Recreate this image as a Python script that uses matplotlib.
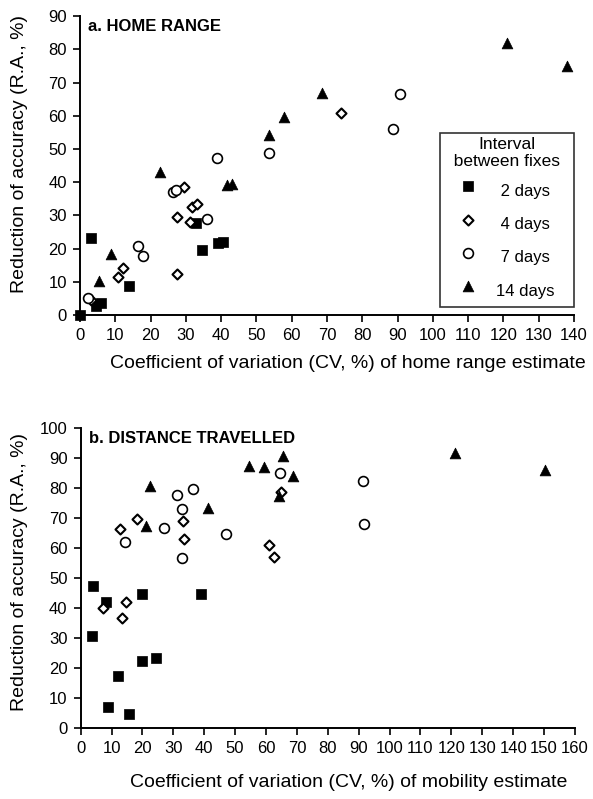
import matplotlib
matplotlib.use("Agg")
import matplotlib.pyplot as plt

plt.rcParams['font.family'] = ['Liberation Sans', 'DejaVu Sans']
plt.rcParams['font.size'] = 12

# ---- Panel a: home range ----
a_sq_x = [0, 3.0, 4.5, 5.9, 13.9, 32.8, 34.5, 39.2, 40.6]
a_sq_y = [0, 23.3, 2.7, 3.5, 8.7, 27.6, 19.6, 21.6, 22.0]
a_di_x = [3.0, 10.9, 12.1, 27.6, 27.6, 29.6, 31.2, 31.8, 33.1, 74.0]
a_di_y = [4.6, 11.5, 14.0, 29.6, 12.3, 38.5, 28.1, 32.4, 33.3, 60.8]
a_ci_x = [2.2, 16.5, 17.8, 26.4, 27.1, 35.9, 38.7, 53.6, 88.8, 90.7]
a_ci_y = [5.1, 20.8, 17.8, 37.0, 37.7, 28.8, 47.4, 48.9, 55.9, 66.5]
a_tr_x = [5.5, 8.7, 22.7, 41.8, 43.0, 53.6, 57.8, 68.7, 121.1, 138.1]
a_tr_y = [10.2, 18.4, 43.2, 39.2, 39.6, 54.2, 59.7, 67.0, 82.0, 75.0]

# ---- Panel b: distance travelled ----
b_sq_x = [4.1, 8.1, 19.9, 38.9, 3.6, 12.0, 19.9, 24.4, 8.9, 15.5]
b_sq_y = [47.3, 41.8, 44.6, 44.6, 30.7, 17.3, 22.2, 23.1, 7.0, 4.6]
b_di_x = [12.7, 18.3, 33.0, 33.4, 61.0, 62.6, 65.0, 14.6, 7.1, 13.5]
b_di_y = [66.1, 69.5, 68.9, 62.9, 60.9, 57.0, 78.5, 42.0, 40.0, 36.7]
b_ci_x = [14.3, 27.1, 31.3, 32.9, 36.4, 32.9, 46.9, 64.5, 91.3, 91.8]
b_ci_y = [62.0, 66.5, 77.6, 72.9, 79.6, 56.5, 64.6, 84.8, 82.3, 67.8]
b_tr_x = [22.4, 21.1, 41.1, 54.6, 59.4, 65.6, 68.8, 64.2, 121.1, 150.3]
b_tr_y = [80.6, 67.2, 73.1, 87.2, 86.8, 90.6, 83.9, 77.2, 91.7, 85.9]

legend_labels = [" 2 days", " 4 days", " 7 days", "14 days"]
legend_title = "Interval\n  between fixes  "

fig = plt.figure(figsize=(5.93, 7.99), dpi=100)
axA = fig.add_axes([0.1349, 0.6058, 0.833, 0.3739])
axB = fig.add_axes([0.136, 0.0892, 0.8336, 0.3755])

styles = [
    dict(marker='s', s=48, facecolors='black', edgecolors='black', linewidths=0.5),
    dict(marker='D', s=26, facecolors='white', edgecolors='black', linewidths=1.5),
    dict(marker='o', s=50, facecolors='white', edgecolors='black', linewidths=1.2),
    dict(marker='^', s=60, facecolors='black', edgecolors='black', linewidths=0.5),
]

def draw(ax, series, xmax, ymax, xlabel, title, xl_y, yl_y):
    handles = []
    for (xs, ys), st, lab in zip(series, styles, legend_labels):
        h = ax.scatter(xs, ys, clip_on=False, zorder=3, label=lab, **st)
        handles.append(h)
    ax.set_xlim(0, xmax)
    ax.set_ylim(0, ymax)
    ax.set_xticks(range(0, xmax + 1, 10))
    ax.set_yticks(range(0, ymax + 1, 10))
    for s in ['top', 'right']:
        ax.spines[s].set_visible(False)
    for s in ['left', 'bottom']:
        ax.spines[s].set_linewidth(1.4)
    ax.tick_params(direction='out', length=5, width=1.2, labelsize=12, pad=4.5)
    ax.set_xlabel(xlabel, fontsize=14)
    ax.xaxis.set_label_coords(0.542, xl_y)
    ax.set_ylabel("Reduction of accuracy (R.A., %)", fontsize=14)
    ax.yaxis.set_label_coords(-0.106, yl_y)
    ax.text(0.016, 0.99, title, transform=ax.transAxes, fontsize=12,
            fontweight='bold', va='top', ha='left')
    return handles

hA = draw(axA, [(a_sq_x, a_sq_y), (a_di_x, a_di_y), (a_ci_x, a_ci_y), (a_tr_x, a_tr_y)],
          140, 90, "Coefficient of variation (CV, %) of home range estimate", "a. HOME RANGE",
          -0.135, 0.54)
draw(axB, [(b_sq_x, b_sq_y), (b_di_x, b_di_y), (b_ci_x, b_ci_y), (b_tr_x, b_tr_y)],
     160, 100, "Coefficient of variation (CV, %) of mobility estimate", "b. DISTANCE TRAVELLED",
     -0.153, 0.52)

leg = axA.legend(handles=hA, title=legend_title, loc='lower right',
                 bbox_to_anchor=(1.0, 0.027), borderaxespad=0, frameon=True, fancybox=False,
                 edgecolor='black', fontsize=12, title_fontsize=12.5,
                 labelspacing=0.5, handleheight=1.93, handletextpad=1.2, borderpad=0.25,
                 handlelength=1.0, scatterpoints=1)
leg.get_frame().set_linewidth(1.2)
leg.get_title().set_multialignment('center')

fig.savefig("out.png", dpi=100)
